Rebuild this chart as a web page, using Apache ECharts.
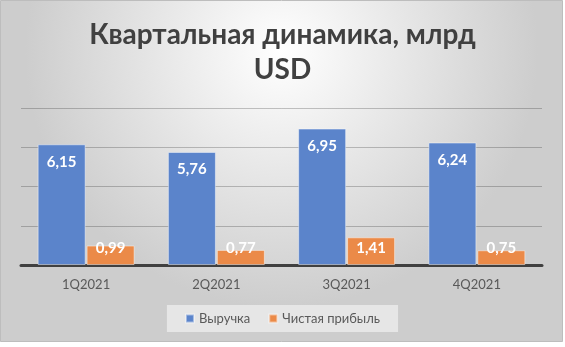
<!DOCTYPE html>
<html>
<head>
<meta charset="utf-8">
<script src="https://cdn.jsdelivr.net/npm/echarts@6/dist/echarts.min.js"></script>
<style>
html,body{margin:0;padding:0;background:#fff;}
#c{width:565px;height:347px;}
</style>
</head>
<body>
<div id="c"></div>
<script>
const categories = ['1Q2021', '2Q2021', '3Q2021', '4Q2021'];
const revenue = [6.15, 5.76, 6.95, 6.24];
const netProfit = [0.99, 0.77, 1.41, 0.75];
const seriesNames = ['Выручка', 'Чистая прибыль'];
const titleText = 'Квартальная динамика, млрд\nUSD';

const chart = echarts.init(document.getElementById('c'), null, {renderer: 'canvas'});
const fmt = p => p.value.toFixed(2).replace('.', ',');
const FONT = 'Lato, "Open Sans", sans-serif';

chart.setOption({
  animation: false,
  textStyle: {fontFamily: FONT},
  graphic: [{
    type: 'rect',
    z: -100,
    silent: true,
    shape: {x: 0.5, y: 0.5, width: 562, height: 341},
    style: {
      fill: new echarts.graphic.RadialGradient(0.5, 0.15, 0.75, [
        {offset: 0, color: '#ffffff'},
        {offset: 1, color: '#cdcdcd'}
      ]),
      stroke: '#bdbdbd',
      lineWidth: 1
    }
  }],
  title: {
    text: titleText,
    left: 'center',
    top: 12,
    textStyle: {
      fontFamily: FONT,
      fontSize: 28,
      fontWeight: 'bold',
      color: '#404040',
      lineHeight: 35
    }
  },
  legend: {
    data: seriesNames,
    bottom: 15,
    left: 'center',
    icon: 'rect',
    itemWidth: 8,
    itemHeight: 8,
    itemGap: 18,
    padding: [7, 18, 7, 18],
    backgroundColor: 'rgba(238,238,238,0.75)',
    textStyle: {fontFamily: FONT, fontSize: 13, color: '#595959'}
  },
  grid: {left: 21, right: 23, top: 108, bottom: 82, containLabel: false},
  xAxis: {
    type: 'category',
    data: categories,
    axisLine: {lineStyle: {color: '#404040', width: 3}},
    axisTick: {show: false},
    axisLabel: {fontFamily: FONT, fontSize: 13, color: '#595959', margin: 13}
  },
  yAxis: {
    type: 'value',
    min: 0,
    max: 8,
    interval: 2,
    axisLabel: {show: false},
    axisLine: {show: false},
    axisTick: {show: false},
    splitLine: {lineStyle: {color: 'rgba(0,0,0,0.22)', width: 1}}
  },
  series: [{
    name: seriesNames[0],
    type: 'bar',
    data: revenue,
    barWidth: 48,
    barGap: '2%',
    itemStyle: {color: '#5b84cb', borderColor: 'rgba(255,255,255,0.45)', borderWidth: 1},
    label: {
      show: true,
      position: 'insideTop',
      distance: 10,
      formatter: fmt,
      color: '#ffffff',
      fontFamily: FONT,
      fontSize: 15,
      fontWeight: 'bold'
    }
  }, {
    name: seriesNames[1],
    type: 'bar',
    data: netProfit,
    barWidth: 48,
    barGap: '2%',
    itemStyle: {color: '#eb8a48', borderColor: 'rgba(255,255,255,0.45)', borderWidth: 1},
    label: {
      show: true,
      position: 'insideBottom',
      distance: 9,
      formatter: fmt,
      color: '#ffffff',
      fontFamily: FONT,
      fontSize: 15,
      fontWeight: 'bold'
    }
  }]
});
</script>
</body>
</html>
